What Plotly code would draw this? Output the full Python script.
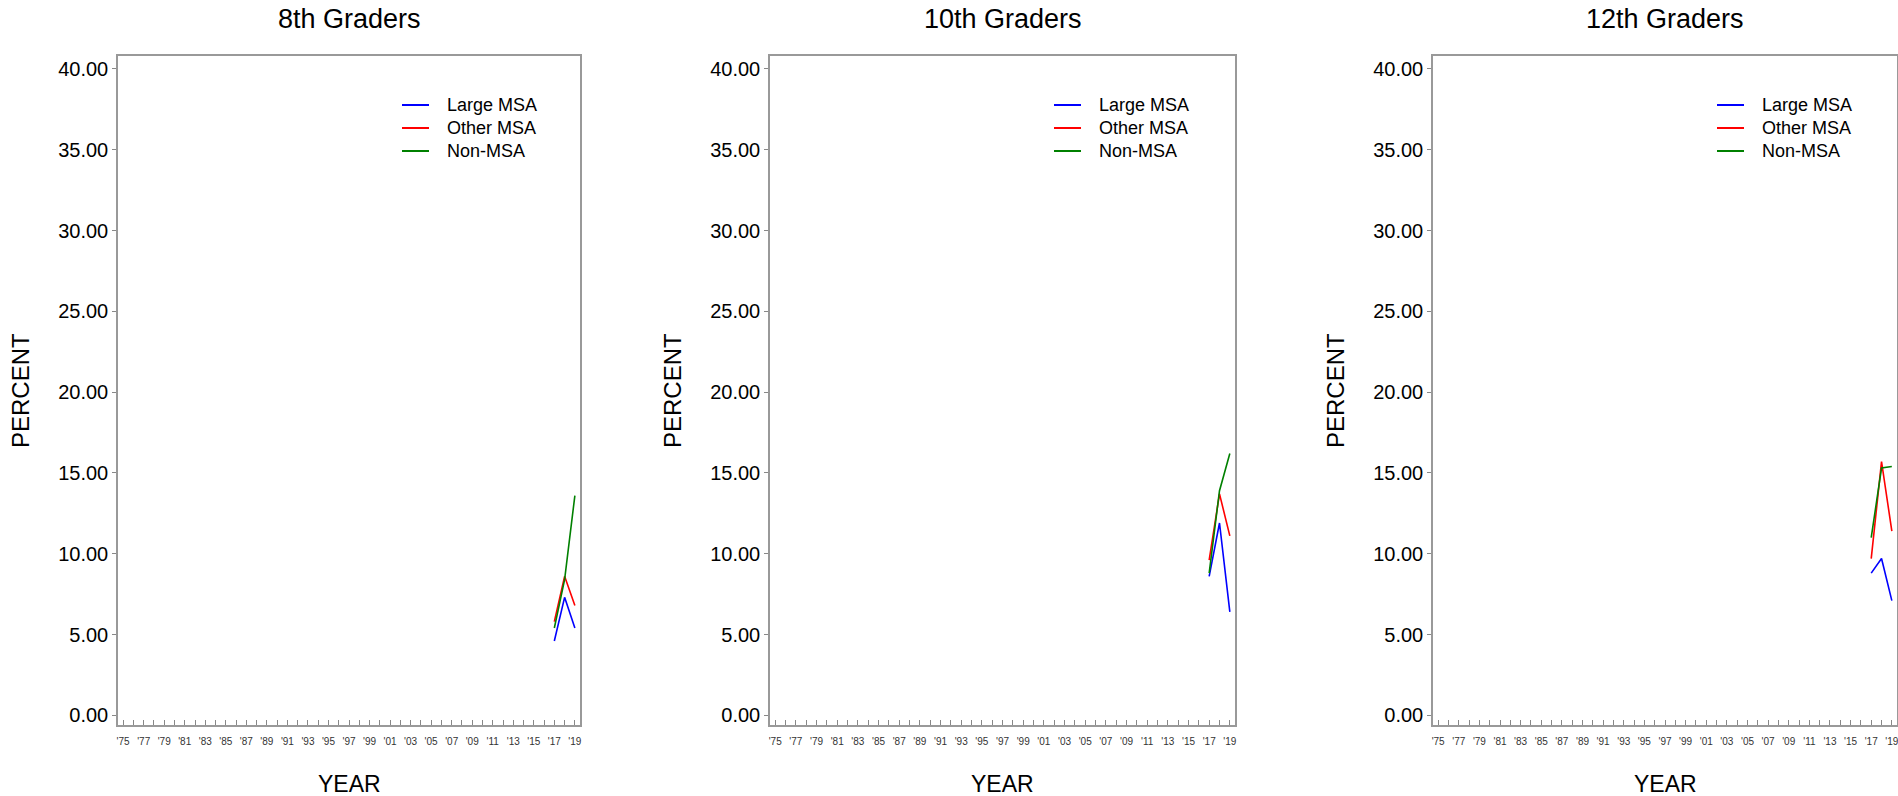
import plotly.graph_objects as go

# ---- data ----
panels = ["8th Graders", "10th Graders", "12th Graders"]
years = [2017, 2018, 2019]
series_names = ["Large MSA", "Other MSA", "Non-MSA"]
series_colors = ["#0000FF", "#FF0000", "#008000"]

large_msa = [[4.6, 7.3, 5.4], [8.6, 11.9, 6.4], [8.8, 9.7, 7.1]]
other_msa = [[5.8, 8.6, 6.8], [9.6, 13.7, 11.1], [9.7, 15.7, 11.4]]
non_msa = [[5.4, 8.4, 13.6], [8.8, 13.9, 16.2], [11.0, 15.3, 15.4]]

tick_years = list(range(1975, 2020))
tick_text = [("'%02d" % (y % 100)) if y % 2 == 1 else "" for y in tick_years]
y_ticks = [0, 5, 10, 15, 20, 25, 30, 35, 40]
y_text = ["%.2f" % v for v in y_ticks]

# ---- layout geometry (pixels of 1898x796 page) ----
W, H = 1898, 796
frames = [(118, 580), (770, 1235), (1433, 1897)]
top_px, bot_px = 56, 725
FONT = "Liberation Sans, Arial, sans-serif"

fig = go.Figure()
all_series = [large_msa, other_msa, non_msa]

for p in range(3):
    ax = "" if p == 0 else str(p + 1)
    for s in range(3):
        fig.add_trace(go.Scatter(
            x=years, y=all_series[s][p], mode="lines", name=series_names[s],
            line=dict(color=series_colors[s], width=1.6),
            xaxis="x" + ax, yaxis="y" + ax,
            showlegend=False, hoverinfo="x+y+name"))

layout = dict(
    width=W, height=H, margin=dict(l=0, r=0, t=0, b=0),
    paper_bgcolor="white", plot_bgcolor="white",
    font=dict(family=FONT, color="black"),
    template="none", showlegend=False,
)
annotations = []
shapes = []
legend_rows = [105, 128, 151]
for p in range(3):
    ax = "" if p == 0 else str(p + 1)
    l, r = frames[p]
    xd = [l / W, r / W]
    yd = [1 - bot_px / H, 1 - top_px / H]
    layout["xaxis" + ax] = dict(
        domain=xd, anchor="y" + ax, range=[1974.5, 2019.5],
        tickmode="array", tickvals=tick_years, ticktext=tick_text,
        ticks="inside", ticklen=5, tickcolor="#888888", tickwidth=1,
        tickfont=dict(size=10, color="#333333", family=FONT), tickangle=0,
        ticklabeloverflow="allow",
        showline=True, linecolor="#999999", linewidth=1.5, mirror=True,
        showgrid=False, zeroline=False, automargin=False, ticklabelstandoff=6)
    layout["yaxis" + ax] = dict(
        domain=yd, anchor="x" + ax, range=[-0.6, 40.8],
        tickmode="array", tickvals=y_ticks, ticktext=y_text,
        ticks="outside", ticklen=4, tickcolor="#888888", tickwidth=1,
        tickfont=dict(size=20, color="black", family=FONT),
        showline=True, linecolor="#999999", linewidth=1.5, mirror=True,
        showgrid=False, zeroline=False, automargin=False)
    cx = (l + r) / 2 / W
    annotations.append(dict(text=panels[p], x=cx, y=1 - 19 / H, xref="paper", yref="paper",
                            xanchor="center", yanchor="middle", showarrow=False,
                            font=dict(size=27, family=FONT, color="black")))
    annotations.append(dict(text="YEAR", x=cx, y=1 - 784 / H, xref="paper", yref="paper",
                            xanchor="center", yanchor="middle", showarrow=False,
                            font=dict(size=23, family=FONT, color="black")))
    annotations.append(dict(text="PERCENT", x=(l - 97) / W, y=1 - 391 / H, xref="paper", yref="paper",
                            xanchor="center", yanchor="middle", showarrow=False, textangle=-90,
                            font=dict(size=24, family=FONT, color="black")))
    # legend (per panel)
    for s in range(3):
        yy = 1 - legend_rows[s] / H
        shapes.append(dict(type="line", xref="paper", yref="paper",
                           x0=(l + 284) / W, x1=(l + 311) / W, y0=yy, y1=yy,
                           line=dict(color=series_colors[s], width=2)))
        annotations.append(dict(text=series_names[s], x=(l + 327) / W, y=yy,
                                xref="paper", yref="paper", xanchor="left", yanchor="middle",
                                showarrow=False,
                                font=dict(size=18, family=FONT, color="black")))

layout["annotations"] = annotations
layout["shapes"] = shapes
fig.update_layout(**layout)
fig.write_html("out.html",
               config={"displayModeBar": False},
               post_script="document.body.style.margin='0';document.body.style.padding='0';"
                           "document.body.style.overflow='hidden';"
                           "document.documentElement.style.overflow='hidden';")
